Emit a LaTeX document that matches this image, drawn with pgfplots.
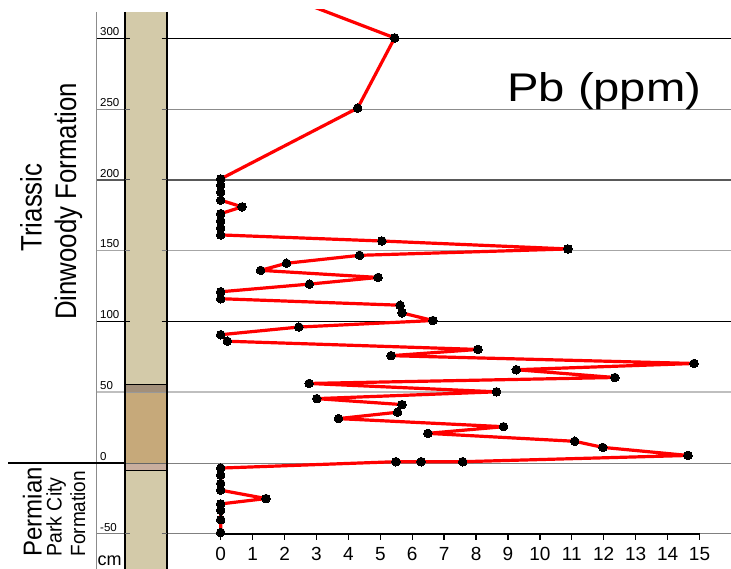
\documentclass[border=0pt]{standalone}
\usepackage{pgfplots}
\pgfplotsset{compat=1.18}
\usepackage{fontspec}
\setmainfont{Liberation Sans}
\definecolor{coltan}{HTML}{D3CAA9}
\definecolor{coldark}{HTML}{A28F7A}
\definecolor{colbrown}{HTML}{C6A97A}
\definecolor{colpink}{HTML}{C9AE9F}
\pgfplotstableread{
x depth
0.81 340
5.45 300
4.29 250.5
0 200.5
0 196
0 191
0 185.5
0.67 180.8
0 176
0 171
0 166
0 161
5.05 156.7
10.88 151.1
4.35 146.6
2.06 141
1.25 136
4.93 131
2.78 126.3
0 120.9
0 116
5.62 111.4
5.68 106
6.65 100.6
2.45 96
0 90.6
0.21 86
8.06 80.2
5.34 75.8
14.83 70.3
9.26 65.9
12.35 60.4
2.77 56.2
8.64 50.3
3.01 45.5
5.68 41.3
5.54 35.9
3.69 31.4
8.86 25.7
6.49 21
11.09 15.4
11.97 11.1
14.64 5.4
7.58 1
6.28 1
5.49 1
0 -3.5
0 -8.5
0 -14.4
0 -19.1
1.42 -25
0 -28.8
0 -33.3
0 -39.9
0 -49
}\pbdata
\begin{document}
\begin{tikzpicture}
\useasboundingbox (0,0) rectangle (731pt,569pt);
\begin{scope}[x=1pt,y=-1pt,yshift=569pt]
  % left vertical line
  \draw[black!45, line width=1pt] (96.7,12) -- (96.7,569);
  % gridlines
  \draw[black, line width=1.3pt] (96.7,38.3) -- (731,38.3);
  \draw[black!45, line width=1pt] (96.7,109.2) -- (731,109.2);
  \draw[black!65, line width=1.8pt] (96.7,180) -- (731,180);
  \draw[black!35, line width=1pt] (96.7,250.5) -- (731,250.5);
  \draw[black, line width=1.3pt] (96.7,321.4) -- (731,321.4);
  \draw[black!25, line width=1.6pt] (96.7,392.3) -- (731,392.3);
  \draw[black!50, line width=1pt] (167,463.1) -- (731,463.1);
  \draw[black, line width=1.5pt] (8,463.1) -- (125,463.1);
  \draw[black!50, line width=1pt] (96.7,534) -- (731,534);
  % column
  \fill[coltan] (125,12) rectangle (167,569);
  \fill[coldark] (125,384.3) rectangle (167,392.3);
  \fill[colbrown] (125,392.3) rectangle (167,463.1);
  \fill[colpink] (125,463.1) rectangle (167,470.7);
  \draw[black, line width=1.3pt] (125,384.3) -- (167,384.3);
  \draw[black, line width=1.3pt] (125,470.7) -- (167,470.7);
  \draw[black!40, line width=1pt] (125,392.3) -- (167,392.3);
  \draw[black!60, line width=1pt] (125,463.1) -- (167,463.1);
  \draw[black, line width=1.3pt] (125,12) -- (125,569);
  \draw[black, line width=1.3pt] (167,12) -- (167,569);
  \foreach \yy/\cc in {38.3/black,109.2/black!60,180/black!70,250.5/black!50,321.4/black,534/black!60}{
    \draw[\cc, line width=1pt] (125,\yy) -- (130,\yy) (161.5,\yy) -- (167,\yy);
  }
  % y tick labels
  \foreach \yy/\lab in {38.3/300,109.2/250,180/200,250.5/150,321.4/100,392.3/50,463.1/0,534/-50}{
    \node[anchor=base west, inner sep=0pt, font=\fontsize{11.5}{12}\selectfont] at (100,\yy-2.8) {\lab};
  }
  % x axis
  \draw[black, line width=2.6pt] (220.7,534) -- (699.5,534);
  \foreach \i in {0,...,15}{
    \draw[black, line width=1.3pt] (220.7+31.92*\i,534) -- (220.7+31.92*\i,540);
    \node[anchor=base, inner sep=0pt, font=\fontsize{19}{20}\selectfont] at (220.7+31.92*\i,560.7) {\i};
  }
  % title
  \node[anchor=base west, inner sep=0pt] at (507,101.7) {\scalebox{1.18}[1]{\fontsize{40}{42}\selectfont Pb (ppm)}};
  % formation labels
  \node[anchor=base, inner sep=0pt, rotate=90] at (41.7,207.5) {\scalebox{1}[1.15]{\fontsize{25.8}{27}\selectfont Triassic}};
  \node[anchor=base, inner sep=0pt, rotate=90] at (76,201.5) {\scalebox{1}[1.15]{\fontsize{25.8}{27}\selectfont Dinwoody Formation}};
  \node[anchor=base west, inner sep=0pt, rotate=90] at (41.7,556.7) {\scalebox{1}[1.08]{\fontsize{24}{25}\selectfont Permian}};
  \node[anchor=base west, inner sep=0pt, rotate=90] at (61.7,556.7) {\scalebox{1}[1.08]{\fontsize{19.5}{20}\selectfont Park City}};
  \node[anchor=base west, inner sep=0pt, rotate=90] at (85,556.7) {\scalebox{1}[1.08]{\fontsize{19}{20}\selectfont Formation}};
  \node[anchor=base west, inner sep=0pt] at (97.5,566) {\fontsize{18}{19}\selectfont cm};
\end{scope}
\begin{axis}[at={(0pt,0pt)}, anchor=south west, scale only axis,
  width=731pt, height=559pt,
  xmin=-6.914, xmax=15.987, ymin=-74.7, ymax=319.7,
  hide axis]
\addplot[red, line width=3.2pt, line join=round,
  mark=*, mark size=4.3pt, mark options={black, fill=black, line width=0pt}]
  table[x=x, y=depth] {\pbdata};
\end{axis}
\end{tikzpicture}
\end{document}
